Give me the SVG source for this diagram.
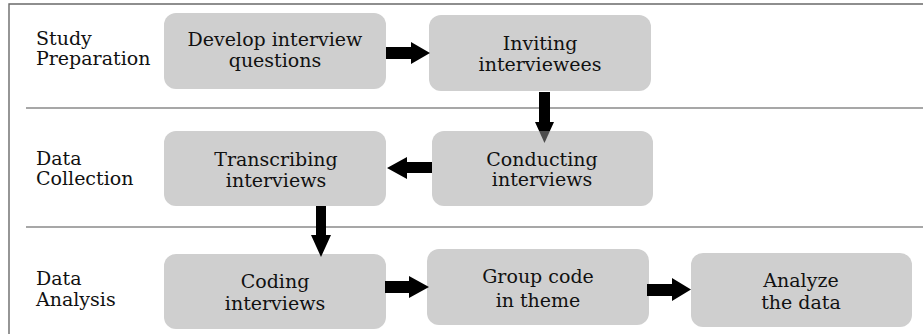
<svg xmlns="http://www.w3.org/2000/svg" width="923" height="334" viewBox="0 0 923 334">
<style>
.frame{stroke:#6a6a6a;stroke-width:1.4;fill:none}
.div{stroke:#8a8a8a;stroke-width:1.6;fill:none}
.box{fill:#cfcfcf}
.t{font-family:"DejaVu Serif","Liberation Serif",serif;font-size:19px;fill:#111}
.c{text-anchor:middle}
.arr{fill:#000}
</style>
<rect width="923" height="334" fill="#fff"/>
<g id="frame">
<path class="frame" d="M9,334 V4 H923"/>
<path class="div" d="M26,108 H923"/>
<path class="div" d="M26,227 H923"/>
</g>
<g id="lanes">
<text class="t" x="36"><tspan x="36" y="45">Study</tspan><tspan x="36" y="65">Preparation</tspan></text>
<text class="t" x="36"><tspan x="36" y="165">Data</tspan><tspan x="36" y="185">Collection</tspan></text>
<text class="t" x="36"><tspan x="36" y="285">Data</tspan><tspan x="36" y="306">Analysis</tspan></text>
</g>
<g id="n1"><rect class="box" x="164" y="13" width="222" height="76" rx="12"/>
<text class="t c"><tspan x="275" y="46">Develop interview</tspan><tspan x="275" y="67">questions</tspan></text></g>
<g id="n2"><rect class="box" x="429" y="15" width="222" height="76" rx="12"/>
<text class="t c"><tspan x="540" y="50">Inviting</tspan><tspan x="540" y="71">interviewees</tspan></text></g>
<g id="n3"><rect class="box" x="432" y="131" width="221" height="75" rx="12"/>
<text class="t c"><tspan x="542" y="166">Conducting</tspan><tspan x="542" y="186">interviews</tspan></text></g>
<g id="n4"><rect class="box" x="164" y="131" width="222" height="75" rx="12"/>
<text class="t c"><tspan x="276" y="166">Transcribing</tspan><tspan x="276" y="187">interviews</tspan></text></g>
<g id="n5"><rect class="box" x="164" y="254" width="222" height="75" rx="12"/>
<text class="t c"><tspan x="275" y="288">Coding</tspan><tspan x="275" y="310">interviews</tspan></text></g>
<g id="n6"><rect class="box" x="427" y="249" width="222" height="76" rx="12"/>
<text class="t c"><tspan x="538" y="283">Group code</tspan><tspan x="538" y="307">in theme</tspan></text></g>
<g id="n7"><rect class="box" x="691" y="253" width="221" height="74" rx="12"/>
<text class="t c"><tspan x="801" y="287">Analyze</tspan><tspan x="801" y="309">the data</tspan></text></g>
<g id="connectors">
<polygon class="arr" points="386,47 411,47 411,42 430,53 411,64 411,59 386,59"/>
<polygon class="arr" points="539,92 550,92 550,122 554,122 549.9,131 539.1,131 535,122 539,122"/>
<polygon fill="#4d4d4d" points="539.1,131 549.9,131 544.5,143"/>
<polygon class="arr" points="432,162 407,162 407,157 387,168 407,179 407,173 432,173"/>
<polygon class="arr" points="316,206 326,206 326,235 331,235 321,257 311,235 316,235"/>
<polygon class="arr" points="385,281 409,281 409,276 429,287 409,298 409,293 385,293"/>
<polygon class="arr" points="647,284 672,284 672,278 691,289.5 672,301 672,296 647,296"/>
</g>
</svg>
